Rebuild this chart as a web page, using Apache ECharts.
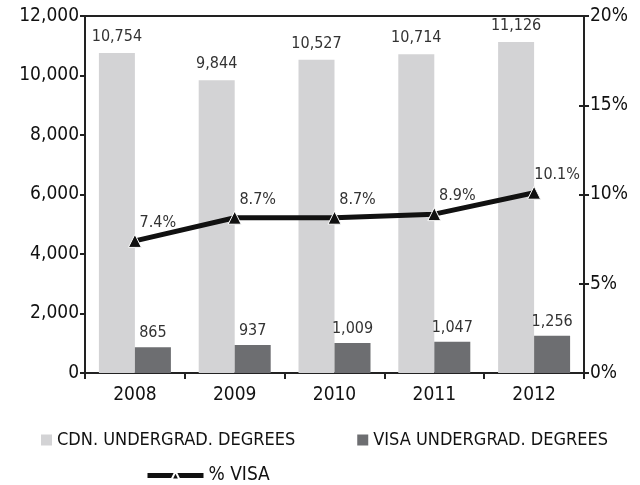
<!DOCTYPE html>
<html>
<head>
<meta charset="utf-8">
<script src="https://cdn.jsdelivr.net/npm/echarts@6/dist/echarts.min.js"></script>
<style>
  html, body { margin: 0; padding: 0; background: #fff; }
  #chart { width: 640px; height: 485px; }
</style>
</head>
<body>
<div id="chart"></div>
<script>
// data
const years = ['2008', '2009', '2010', '2011', '2012']
const cdnDegrees = [10754, 9844, 10527, 10714, 11126]
const visaDegrees = [865, 937, 1009, 1047, 1256]
const visaPct = [7.4, 8.7, 8.7, 8.9, 10.1]

const axisFont = 'DejaVu Sans Condensed'
const fmt = (v) => v.toLocaleString('en-US')

const myChart = echarts.init(document.getElementById('chart'))

const dataLabel = {
  show: true, position: 'top',
  fontFamily: axisFont, fontSize: 16, color: '#333',
  formatter: (p) => fmt(p.value)
}

myChart.setOption({
  animation: false,
  grid: {
    left: 85, right: 56, top: 16, bottom: 112,
    show: true, borderColor: '#222', borderWidth: 2
  },
  legend: [{
    left: 36, top: 426, itemWidth: 11, itemHeight: 11, itemGap: 62,
    textStyle: { fontFamily: axisFont, fontSize: 18, color: '#111' },
    data: [
      { name: 'CDN. UNDERGRAD. DEGREES', icon: 'rect' },
      { name: 'VISA UNDERGRAD. DEGREES', icon: 'rect' }
    ]
  }, {
    left: 140, top: 461, itemWidth: 56, itemHeight: 10,
    lineStyle: { width: 5 },
    textStyle: { fontFamily: axisFont, fontSize: 19, color: '#111' },
    data: ['% VISA']
  }],
  xAxis: {
    type: 'category',
    data: years,
    axisLine: { lineStyle: { color: '#222', width: 2 } },
    axisTick: { show: true, length: 6, lineStyle: { color: '#222', width: 2 } },
    axisLabel: { fontFamily: axisFont, fontSize: 19, color: '#111', margin: 13 }
  },
  yAxis: [{
    type: 'value', min: 0, max: 12000, interval: 2000,
    splitLine: { show: false },
    axisLine: { show: true, lineStyle: { color: '#222', width: 2 } },
    axisTick: { show: true, length: 5, lineStyle: { color: '#222', width: 2 } },
    axisLabel: { fontFamily: axisFont, fontSize: 19, color: '#111', margin: 6, formatter: fmt }
  }, {
    type: 'value', min: 0, max: 20, interval: 5,
    splitLine: { show: false },
    axisLine: { show: true, lineStyle: { color: '#222', width: 2 } },
    axisTick: { show: true, length: 5, lineStyle: { color: '#222', width: 2 } },
    axisLabel: { fontFamily: axisFont, fontSize: 19, color: '#111', margin: 6, formatter: '{value}%' }
  }, {
    // inner half of the right axis ticks
    type: 'value', position: 'right', min: 0, max: 20, interval: 5,
    splitLine: { show: false },
    axisLine: { show: false },
    axisLabel: { show: false },
    axisTick: { show: true, inside: true, length: 5, lineStyle: { color: '#222', width: 2 } }
  }],
  series: [{
    name: 'CDN. UNDERGRAD. DEGREES',
    type: 'bar',
    data: cdnDegrees,
    barWidth: 36,
    barGap: '0%',
    itemStyle: { color: '#d3d3d5' },
    label: Object.assign({}, dataLabel, { distance: 8 })
  }, {
    name: 'VISA UNDERGRAD. DEGREES',
    type: 'bar',
    data: visaDegrees,
    barWidth: 36,
    barGap: '0%',
    itemStyle: { color: '#6d6e71' },
    label: Object.assign({}, dataLabel, { distance: 6 })
  }, {
    name: '% VISA',
    type: 'line',
    yAxisIndex: 1,
    data: visaPct,
    symbol: 'triangle',
    symbolSize: 13,
    lineStyle: { color: '#111', width: 5 },
    itemStyle: { color: '#111', borderColor: '#fff', borderWidth: 1 },
    label: {
      show: true, position: 'top', distance: 3, offset: [23, 0],
      fontFamily: axisFont, fontSize: 16, color: '#333',
      formatter: (p) => p.value.toFixed(1) + '%'
    },
    z: 5
  }]
})
</script>
</body>
</html>
